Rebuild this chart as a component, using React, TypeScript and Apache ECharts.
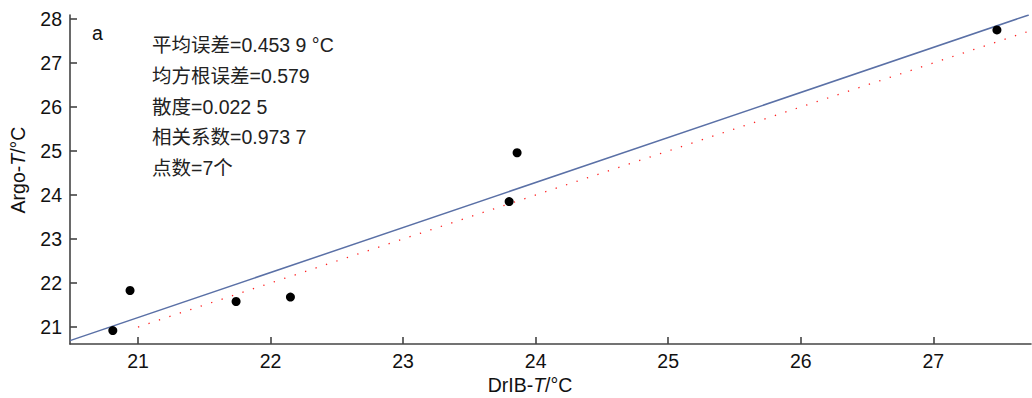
import React, { useEffect, useRef } from "react";
import * as echarts from "echarts";

const points: [number, number][] = [
  [20.81, 20.92],
  [20.94, 21.83],
  [21.74, 21.58],
  [22.15, 21.68],
  [23.8, 23.85],
  [23.86, 24.96],
  [27.48, 27.75],
];
const fitLine: [number, number][] = [
  [20.487, 20.69],
  [27.72, 28.09],
];
const oneToOne: [number, number][] = [
  [21, 21],
  [27.737, 27.737],
];
const xTicks = [21, 22, 23, 24, 25, 26, 27];
const yTicks = [21, 22, 23, 24, 25, 26, 27, 28];
const statLines = [
  "平均误差=0.453 9 °C",
  "均方根误差=0.579",
  "散度=0.022 5",
  "相关系数=0.973 7",
  "点数=7个",
];

const FONT = '"Liberation Sans", Arial, "Noto Sans CJK SC", sans-serif';
const FS = 19.5;

export default function App() {
  const ref = useRef<HTMLDivElement>(null);
  useEffect(() => {
    if (!ref.current) return;
    const chart = echarts.init(ref.current, undefined, { renderer: "svg" });
    const axisCommon = {
      axisLine: { show: true, lineStyle: { color: "#444", width: 1.6 } },
      axisTick: { show: true, inside: true, length: 7, lineStyle: { color: "#444", width: 1.6 } },
      splitLine: { show: false },
    };
    chart.setOption({
      animation: false,
      backgroundColor: "#fff",
      grid: { left: 70, right: 1, top: 15, bottom: 54, containLabel: false },
      xAxis: {
        type: "value",
        min: 20.487,
        max: 27.737,
        ...axisCommon,
        axisTick: { ...axisCommon.axisTick, customValues: xTicks },
        axisLabel: {
          customValues: xTicks,
          color: "#111",
          fontSize: FS,
          fontFamily: FONT,
          margin: 7,
        },
      },
      yAxis: {
        type: "value",
        min: 20.614,
        max: 28.09,
        ...axisCommon,
        axisTick: { ...axisCommon.axisTick, customValues: yTicks },
        axisLabel: {
          customValues: yTicks,
          color: "#111",
          fontSize: FS,
          fontFamily: FONT,
          margin: 8,
        },
      },
      series: [
        {
          type: "line",
          data: fitLine,
          symbol: "none",
          lineStyle: { color: "#5a70a6", width: 1.5 },
          z: 2,
        },
        {
          type: "line",
          data: oneToOne,
          symbol: "none",
          lineStyle: { color: "#ff2020", width: 1.3, type: [1.3, 9.7] },
          z: 2,
        },
        {
          type: "scatter",
          data: points,
          symbol: "circle",
          symbolSize: 9,
          itemStyle: { color: "#000", opacity: 1 },
          z: 3,
        },
      ],
      graphic: [
        {
          type: "text",
          x: 92,
          y: 33,
          style: { text: "a", font: `${FS}px ${FONT}`, fill: "#111", verticalAlign: "middle" },
        },
        ...statLines.map((t, i) => ({
          type: "text",
          x: 152,
          y: 45 + i * 30.8,
          style: { text: t, font: `${FS}px ${FONT}`, fill: "#222", verticalAlign: "middle" },
        })),
        {
          type: "text",
          x: 18,
          y: 170,
          rotation: Math.PI / 2,
          style: {
            text: "{a|Argo-}{i|T}{a|/°C}",
            align: "center",
            verticalAlign: "middle",
            rich: {
              a: { fontSize: FS, fontFamily: FONT, fill: "#111", color: "#111" },
              i: { fontSize: FS, fontFamily: FONT, fontStyle: "italic", fill: "#111", color: "#111" },
            },
          },
        },
        {
          type: "text",
          x: 530,
          y: 385,
          style: {
            text: "{a|DrIB-}{i|T}{a|/°C}",
            align: "center",
            verticalAlign: "middle",
            rich: {
              a: { fontSize: FS, fontFamily: FONT, fill: "#111", color: "#111" },
              i: { fontSize: FS, fontFamily: FONT, fontStyle: "italic", fill: "#111", color: "#111" },
            },
          },
        },
      ],
    });
    return () => chart.dispose();
  }, []);
  return (
    <div
      ref={ref}
      style={{ position: "fixed", left: 0, top: 0, width: 1032, height: 398, background: "#fff" }}
    />
  );
}
